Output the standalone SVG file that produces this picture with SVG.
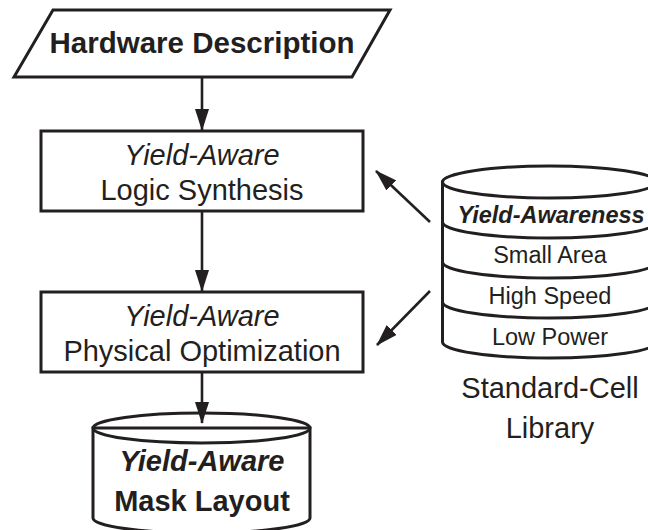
<svg xmlns="http://www.w3.org/2000/svg" width="648" height="530" viewBox="0 0 648 530">
<style>
.shape{fill:#fff;stroke:#231f20;stroke-width:3;stroke-linejoin:miter}
.line{fill:none;stroke:#231f20;stroke-width:2.6}
.t{font-family:"Liberation Sans",Arial,sans-serif;fill:#231f20;text-anchor:middle}
.big{font-size:29px}
.small{font-size:23.5px}
.b{font-weight:bold}
.i{font-style:italic}
</style>
<defs>
<marker id="ah" markerUnits="userSpaceOnUse" markerWidth="22" markerHeight="14" refX="21" refY="7" orient="auto">
<path d="M0,0 L22,7 L0,14 Z" fill="#231f20"/>
</marker>
</defs>
<rect width="648" height="530" fill="#fff"/>
<g id="connectors">
<line class="line" x1="202" y1="77" x2="202" y2="130" marker-end="url(#ah)"/>
<line class="line" x1="202" y1="211" x2="202" y2="291" marker-end="url(#ah)"/>
<line class="line" x1="202" y1="372" x2="202" y2="423" marker-end="url(#ah)"/>
<line class="line" x1="430" y1="222" x2="376" y2="171" marker-end="url(#ah)"/>
<line class="line" x1="430" y1="291" x2="377" y2="345" marker-end="url(#ah)"/>
</g>
<g id="hardware-description">
<polygon class="shape" points="53,10 390,10 352,77 14,77"/>
<text class="t big b" x="202" y="53" style="font-size:29.5px">Hardware Description</text>
</g>
<g id="logic-synthesis">
<rect class="shape" x="41" y="131" width="322" height="80"/>
<text class="t big i" x="202" y="165">Yield-Aware</text>
<text class="t big" x="202" y="200">Logic Synthesis</text>
</g>
<g id="physical-optimization">
<rect class="shape" x="41" y="292" width="322" height="80"/>
<text class="t big i" x="202" y="326">Yield-Aware</text>
<text class="t big" x="202" y="361">Physical Optimization</text>
</g>
<g id="mask-layout">
<path class="shape" d="M93,428 L93,518 A108.5,15 0 0 0 310,518 L310,428 Z"/>
<ellipse class="shape" cx="201.5" cy="428" rx="108.5" ry="15" fill="none" style="fill:none"/>
<text class="t big b i" x="202" y="471">Yield-Aware</text>
<text class="t big b" x="202" y="511">Mask Layout</text>
</g>
<g id="standard-cell-library">
<path class="shape" d="M442.5,182 L442.5,342 A107,16 0 0 0 656.5,342 L656.5,182 Z"/>
<ellipse class="shape" cx="549.5" cy="182" rx="107" ry="16"/>
<path class="line" style="stroke-width:3" d="M442.5,222 A107,16 0 0 0 656.5,222"/>
<path class="line" style="stroke-width:3" d="M442.5,262 A107,16 0 0 0 656.5,262"/>
<path class="line" style="stroke-width:3" d="M442.5,302 A107,16 0 0 0 656.5,302"/>
<text class="t small b i" x="551" y="223">Yield-Awareness</text>
<text class="t small" x="550" y="263">Small Area</text>
<text class="t small" x="550" y="304">High Speed</text>
<text class="t small" x="550" y="345">Low Power</text>
<text class="t big" x="550" y="398">Standard-Cell</text>
<text class="t big" x="550" y="438">Library</text>
</g>
</svg>
